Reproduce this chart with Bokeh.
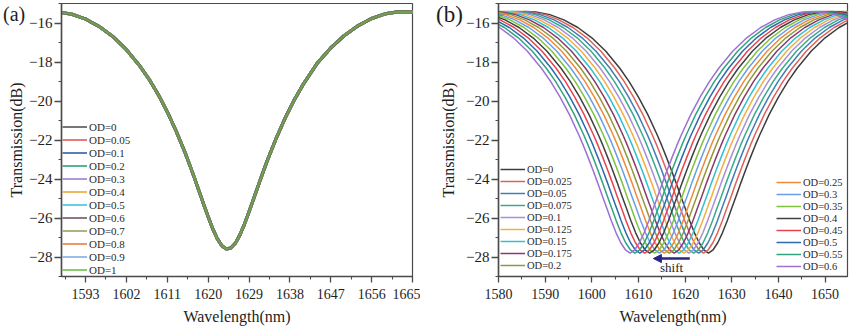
from bokeh.plotting import figure
from bokeh.models import (Range1d, FixedTicker, Legend, LegendItem, Label, Arrow, NormalHead, Div)
from bokeh.layouts import row
from bokeh.embed import file_html
from bokeh.resources import INLINE

# ---------------- data: panel (a) ----------------
od_a = ["OD=0", "OD=0.05", "OD=0.1", "OD=0.2", "OD=0.3", "OD=0.4", "OD=0.5",
        "OD=0.6", "OD=0.7", "OD=0.8", "OD=0.9", "OD=1"]
colors_a = ["#555555", "#e05a5a", "#2f5fa8", "#2fa07a", "#9a80cc", "#e8a83a",
            "#40c4e0", "#6e5a5a", "#9aa060", "#e88040", "#80aee8", "#6cc04a"]
wl_a = [1587.7, 1590, 1593, 1596, 1599, 1602, 1605, 1607, 1609, 1611,
        1613, 1615, 1616, 1617, 1618, 1619, 1620, 1621, 1622, 1623,
        1624, 1625, 1626, 1627, 1628, 1629, 1630, 1631, 1632, 1633,
        1635, 1637, 1639, 1641, 1644, 1647, 1650, 1653, 1656, 1659,
        1662, 1665]
db_a = [-15.46, -15.55, -15.80, -16.18, -16.69, -17.37, -18.22, -18.89, -19.67, -20.56,
        -21.57, -22.70, -23.32, -23.96, -24.63, -25.29, -25.94, -26.55, -27.06, -27.42,
        -27.59, -27.54, -27.29, -26.86, -26.31, -25.68, -25.03, -24.36, -23.70, -23.07,
        -21.90, -20.85, -19.93, -19.12, -18.07, -17.28, -16.64, -16.14, -15.77, -15.53,
        -15.42, -15.43]
xticks_a = [1593, 1602, 1611, 1620, 1629, 1638, 1647, 1656, 1665]

# ---------------- data: panel (b) ----------------
od_b = ["OD=0", "OD=0.025", "OD=0.05", "OD=0.075", "OD=0.1", "OD=0.125", "OD=0.15",
        "OD=0.175", "OD=0.2", "OD=0.25", "OD=0.3", "OD=0.35", "OD=0.4", "OD=0.45",
        "OD=0.5", "OD=0.55", "OD=0.6"]
colors_b = ["#3d3d3d", "#e0605a", "#3f7fb5", "#3aaa8a", "#a98fd6", "#f0b040",
            "#30c0d0", "#8b3a6b", "#8f9a3a", "#ef8a3a", "#6a9ee8", "#7ec23f",
            "#404040", "#e8424f", "#2c6aa8", "#2fa47e", "#9f6fd6"]
dip_b = [1625.0, 1623.95, 1622.9, 1621.85, 1620.8, 1619.75, 1618.7, 1617.65, 1616.6,
         1615.55, 1614.5, 1613.45, 1612.4, 1611.35, 1610.3, 1609.25, 1608.2]
# spectrum shape relative to its dip (nm offset, dB)
off_b = [-47, -44, -41, -39, -37, -34, -31, -28, -25, -22, -19, -17, -15, -13, -11,
         -10, -9, -8, -7, -6, -5, -4, -3, -2, -1, 0, 1, 2, 3, 4, 5, 6, 7, 8, 9, 10,
         11, 13, 15, 17, 19, 22, 25, 28, 31, 34, 37, 39, 41, 44, 47]
db_b = [-15.84, -15.57, -15.43, -15.41, -15.43, -15.57, -15.84, -16.23, -16.76, -17.45,
        -18.32, -19.01, -19.80, -20.70, -21.73, -22.29, -22.89, -23.51, -24.16, -24.83,
        -25.49, -26.15, -26.76, -27.27, -27.63, -27.80, -27.63, -27.27, -26.76, -26.15,
        -25.49, -24.83, -24.16, -23.51, -22.89, -22.29, -21.73, -20.70, -19.80, -19.01,
        -18.32, -17.45, -16.76, -16.23, -15.84, -15.57, -15.43, -15.41, -15.43, -15.57,
        -15.84]
xticks_b = [1580, 1590, 1600, 1610, 1620, 1630, 1640, 1650]
yticks = [-28, -26, -24, -22, -20, -18, -16]
shift_arrow = (1621.0, 1613.2, -28.08)

FONT = "Liberation Serif"
AX = "#4a4a4a"
TXT = "#1e1e1e"


def style(p, xt, xminor, ylab_standoff):
    p.grid.visible = False
    p.outline_line_color = AX
    p.outline_line_width = 1.2
    p.background_fill_color = "white"
    p.border_fill_color = "white"
    for ax in (p.xaxis[0], p.yaxis[0]):
        ax.axis_line_color = AX
        ax.axis_line_width = 1.5
        ax.major_tick_line_color = AX
        ax.minor_tick_line_color = AX
        ax.major_tick_line_width = 1.3
        ax.minor_tick_line_width = 1.1
        ax.major_tick_in = 0
        ax.minor_tick_in = 0
        ax.minor_tick_out = 3
        ax.major_label_text_font = FONT
        ax.major_label_text_color = TXT
        ax.axis_label_text_font = FONT
        ax.axis_label_text_font_style = "normal"
        ax.axis_label_text_color = TXT
        ax.axis_label_text_font_size = "16px"
    p.xaxis[0].major_tick_out = 6
    p.yaxis[0].major_tick_out = 7
    p.xaxis[0].major_label_text_font_size = "14px"
    p.yaxis[0].major_label_text_font_size = "15px"
    p.xaxis[0].ticker = FixedTicker(ticks=xt, minor_ticks=xminor)
    p.yaxis[0].ticker = FixedTicker(ticks=yticks, minor_ticks=[-29, -27, -25, -23, -21, -19, -17, -15])
    p.xaxis[0].major_label_standoff = 6
    p.yaxis[0].major_label_standoff = 2
    p.xaxis[0].axis_label_standoff = 6
    p.yaxis[0].axis_label_standoff = ylab_standoff
    p.xaxis[0].axis_label = "Wavelength(nm)"
    p.yaxis[0].axis_label = "Transmission(dB)"


def make_legend(items, loc, size, h):
    lg = Legend(items=items, location=loc)
    lg.padding = 0
    lg.margin = 0
    lg.spacing = 0
    lg.glyph_width = 25
    lg.glyph_height = h
    lg.label_height = h
    lg.label_standoff = 2
    lg.label_text_font = FONT
    lg.label_text_font_size = size
    lg.label_text_color = "#2a2a2a"
    lg.border_line_color = None
    lg.background_fill_alpha = 0
    return lg


def panel_tag(text, left, top, size):
    return Div(text=text, width=40, height=28,
               styles={"position": "absolute", "left": f"{left}px", "top": f"{top}px",
                       "font-family": FONT, "font-size": size, "color": TXT,
                       "z-index": "10", "line-height": "24px", "margin": "0"})


# ---------------- panel (a) ----------------
pa = figure(width=420, height=328, output_backend="svg", toolbar_location=None,
            x_range=Range1d(1587.7, 1665), y_range=Range1d(-29, -15),
            min_border_left=61, min_border_right=8, min_border_top=3, min_border_bottom=48)
style(pa, xticks_a, [1588.5] + [t + 4.5 for t in xticks_a[:-1]], 1)
items_a = []
for lab, col in zip(od_a, colors_a):
    r = pa.line(wl_a, db_a, line_color=col, line_width=1.6)
    items_a.append(LegendItem(label=lab, renderers=[r]))
# thick visible stack of the (coincident) curves
for i, col in enumerate(colors_a):
    if i in (7, 11):
        continue
    pa.line(wl_a, db_a, line_color=col, line_width=3.0)
pa.line(wl_a, db_a, line_color=colors_a[7], line_width=3.2)
pa.line(wl_a, db_a, line_color=colors_a[11], line_width=2.2, line_alpha=0.7)
pa.add_layout(make_legend(items_a, (1, 0), "11px", 13), "center")

# ---------------- panel (b) ----------------
pb = figure(width=429, height=328, output_backend="svg", toolbar_location=None,
            x_range=Range1d(1580, 1654.8), y_range=Range1d(-29, -15),
            min_border_left=78, min_border_right=2, min_border_top=3, min_border_bottom=52)
style(pb, xticks_b, [t + 5 for t in xticks_b], 6)
items_b = []
for lab, col, d in zip(od_b, colors_b, dip_b):
    r = pb.line([d + o for o in off_b], db_b, line_color=col, line_width=1.5)
    items_b.append(LegendItem(label=lab, renderers=[r]))
pb.add_layout(make_legend(items_b[:9], (2, 5), "10.5px", 12), "center")
pb.add_layout(make_legend(items_b[9:], (278, 4), "10.5px", 12), "center")
navy = "#262687"
pb.add_layout(Arrow(end=NormalHead(size=8, fill_color=navy, line_color=navy),
                    x_start=shift_arrow[0], y_start=shift_arrow[2],
                    x_end=shift_arrow[1], y_end=shift_arrow[2],
                    line_color=navy, line_width=2.5))
pb.add_layout(Label(x=(shift_arrow[0] + shift_arrow[1]) / 2, y=shift_arrow[2] - 0.45,
                    text="shift", text_font=FONT, text_font_size="13px",
                    text_align="center", text_baseline="middle", text_color=TXT))

layout = row(pa, pb, panel_tag("(a)", 3, 2, "20px"), panel_tag("(b)", 436, 3, "23px"),
             spacing=0)
open("out.html", "w").write(file_html(layout, INLINE))
